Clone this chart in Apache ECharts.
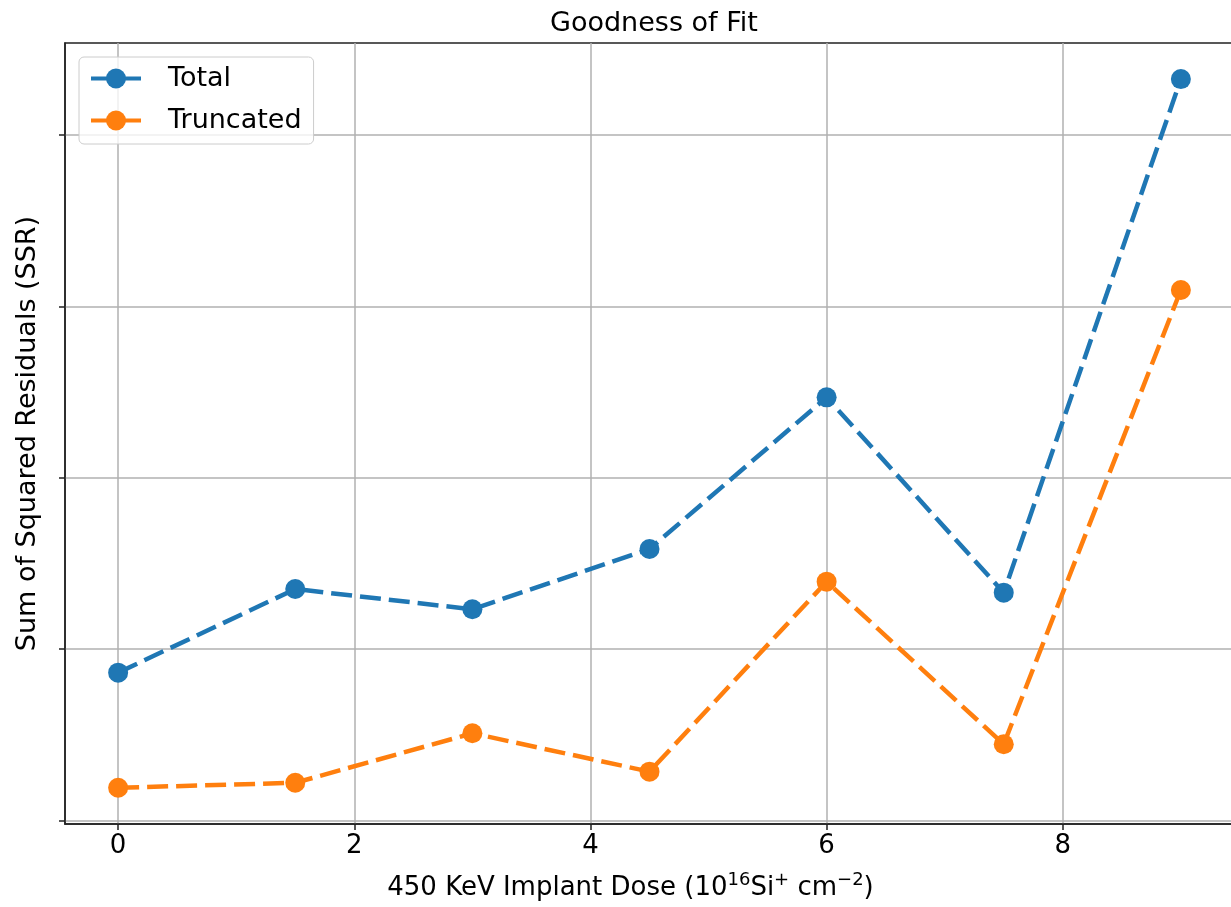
<!DOCTYPE html>
<html><head><meta charset="utf-8">
<script src="https://cdn.jsdelivr.net/npm/echarts@6/dist/echarts.min.js"></script>
<style>html,body{margin:0;padding:0;background:#fff}#c{width:1231px;height:907px}</style>
</head><body><div id="c"></div>
<script>
const doses = [0, 1.5, 3, 4.5, 6, 7.5, 9];
const totalSSR = [0.862, 1.350, 1.232, 1.584, 2.469, 1.329, 4.327];
const truncatedSSR = [0.190, 0.219, 0.508, 0.284, 1.393, 0.444, 3.096];
const xTicks = [0, 2, 4, 6, 8];
const yTicks = [0, 1, 2, 3, 4];
const seriesNames = ['Total', 'Truncated'];
const colors = ['#1f77b4', '#ff7f0e'];

const FONT = 'DejaVu Sans';
const chart = echarts.init(document.getElementById('c'), null, {renderer: 'canvas'});
const mk = (vals) => doses.map((d, i) => [d, vals[i]]);
const lineSeries = (name, vals, color) => ({
  name, type: 'line', data: mk(vals), clip: false,
  symbol: 'circle', symbolSize: 20, showSymbol: true,
  itemStyle: {color},
  lineStyle: {color, width: 4.5, type: [21, 8]},
  emphasis: {disabled: true},
  animation: false
});

chart.setOption({
  animation: false,
  color: colors,
  title: {
    text: 'Goodness of Fit', left: 545, top: 5,
    textStyle: {fontFamily: FONT, fontSize: 27, fontWeight: 'normal', color: '#000'}
  },
  legend: {
    orient: 'vertical', left: 79, top: 57,
    data: seriesNames,
    itemWidth: 50, itemHeight: 25, itemGap: 15,
    padding: [8, 12, 10, 10],
    backgroundColor: 'rgba(255,255,255,0.8)',
    borderColor: '#cccccc', borderWidth: 1, borderRadius: 5,
    lineStyle: {type: 'solid', width: 4},
    textStyle: {fontFamily: FONT, fontSize: 27, color: '#000', lineHeight: 26, padding: [0, 0, 0, 22]}
  },
  grid: {left: 65, right: -3, top: 43, bottom: 83, show: true, borderColor: '#222', borderWidth: 1.5, outerBoundsMode: 'none'},
  xAxis: {
    type: 'value', min: -0.45, max: 9.45,
    name: '{t|450 KeV Implant Dose (10}{s|16}{t|Si}{s|+}{t| cm}{s|−2}{t|)}',
    nameLocation: 'middle', nameGap: 47,
    nameTextStyle: {
      padding: [0, 38, 0, 0],
      rich: {
        t: {fontFamily: FONT, fontSize: 26, lineHeight: 34, color: '#000'},
        s: {fontFamily: FONT, fontSize: 18, lineHeight: 18, verticalAlign: 'top', color: '#000'}
      }
    },
    axisLine: {show: true, onZero: false, lineStyle: {color: '#222', width: 1.5}},
    axisTick: {show: true, customValues: xTicks, length: 6, lineStyle: {color: '#222', width: 1.5}},
    axisLabel: {customValues: xTicks, margin: 9, fontFamily: FONT, fontSize: 26, color: '#000'},
    splitLine: {show: true, lineStyle: {color: '#b0b0b0', width: 1.5}}
  },
  yAxis: {
    type: 'value', min: -0.0216, max: 4.5377,
    name: 'Sum of Squared Residuals (SSR)',
    nameLocation: 'middle', nameGap: 24,
    nameTextStyle: {fontFamily: FONT, fontSize: 27, color: '#000'},
    axisLine: {show: true, onZero: false, lineStyle: {color: '#222', width: 1.5}},
    axisTick: {show: true, customValues: yTicks, length: 6, lineStyle: {color: '#222', width: 1.5}},
    axisLabel: {show: false, customValues: yTicks},
    splitLine: {show: true, lineStyle: {color: '#b0b0b0', width: 1.5}}
  },
  series: [
    lineSeries(seriesNames[0], totalSSR, colors[0]),
    lineSeries(seriesNames[1], truncatedSSR, colors[1])
  ]
});
</script></body></html>
